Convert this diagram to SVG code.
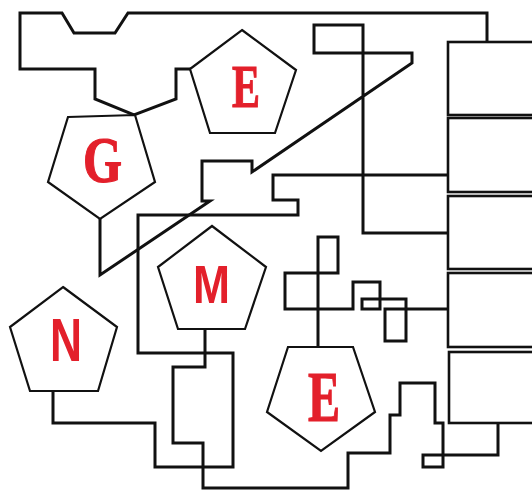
<svg xmlns="http://www.w3.org/2000/svg" width="532" height="491" viewBox="0 0 532 491">
<style>
.bg{fill:#ffffff}
.pent{fill:#ffffff;stroke:#111;stroke-width:2.2;stroke-linejoin:miter}
.box{fill:#ffffff;stroke:#111;stroke-width:2.6}
.wire{fill:none;stroke:#111;stroke-width:3;stroke-linejoin:miter;stroke-linecap:square}
.serif{font-family:"Liberation Serif","Times New Roman",serif;font-weight:bold;fill:#e3202b;stroke:#e3202b;stroke-width:1.2}
.sans{font-family:"Liberation Sans",Arial,sans-serif;font-weight:bold;fill:#e3202b}
</style>
<rect class="bg" x="0" y="0" width="532" height="491"/>
<g id="connectors">
<polyline class="wire" points="487,42 487,13 128,13 115,33 74,33 62,13 20,13 20,69 95,69 95,99 134,115 176,99 176,69 190,69"/>
<polyline class="wire" points="100,218 100,275 210,201 202,201 202,161 252,161 252,172 412,63 412,53 314,53 314,25 363,25 363,233 448,233"/>
<polyline class="wire" points="53,392 53,423 155,423 155,467 233,467 233,353 138,353 138,215 298,215 298,200 273,200 273,175 448,175"/>
<polyline class="wire" points="205,329 205,367 173,367 173,443 203,443 203,488 348,488 348,453 390,453 390,415 400,415 400,383 435,383 435,423 443,423 443,467 423,467 423,455 498,455 498,423"/>
<polyline class="wire" points="318,347 318,237 338,237 338,273 285,273 285,309 353,309 353,282 380,282 380,309 362,309 362,299 406,299 406,341 385,341 385,309 448,309"/>
</g>
<g id="box1"><rect class="box" x="448" y="42" width="100" height="73"/></g>
<g id="box2"><rect class="box" x="448" y="118" width="100" height="74"/></g>
<g id="box3"><rect class="box" x="448" y="196" width="100" height="73"/></g>
<g id="box4"><rect class="box" x="448" y="273" width="100" height="74"/></g>
<g id="box5"><rect class="box" x="449" y="352" width="100" height="71"/></g>
<g id="nodeE1">
<polygon class="pent" points="242,30 296,70 275,133 210,133 190,69"/>
<text class="serif" x="232" y="107" font-size="62" textLength="28" lengthAdjust="spacingAndGlyphs">E</text>
</g>
<g id="nodeG">
<polygon class="pent" points="68,117 135,115 155,182 100,219 48,182"/>
<text class="serif" x="83" y="182" font-size="66" textLength="39" lengthAdjust="spacingAndGlyphs">G</text>
</g>
<g id="nodeM">
<polygon class="pent" points="212,226 266,267 245,329 178,329 158,267"/>
<text class="sans" x="193" y="303" font-size="53" textLength="37" lengthAdjust="spacingAndGlyphs">M</text>
</g>
<g id="nodeN">
<polygon class="pent" points="63,287 117,327 98,391 30,391 10,327"/>
<text class="sans" x="50" y="361" font-size="61" textLength="32" lengthAdjust="spacingAndGlyphs">N</text>
</g>
<g id="nodeE2">
<polygon class="pent" points="288,347 353,347 375,412 321,451 267,412"/>
<text class="serif" x="308" y="421" font-size="71" textLength="32" lengthAdjust="spacingAndGlyphs">E</text>
</g>
</svg>
